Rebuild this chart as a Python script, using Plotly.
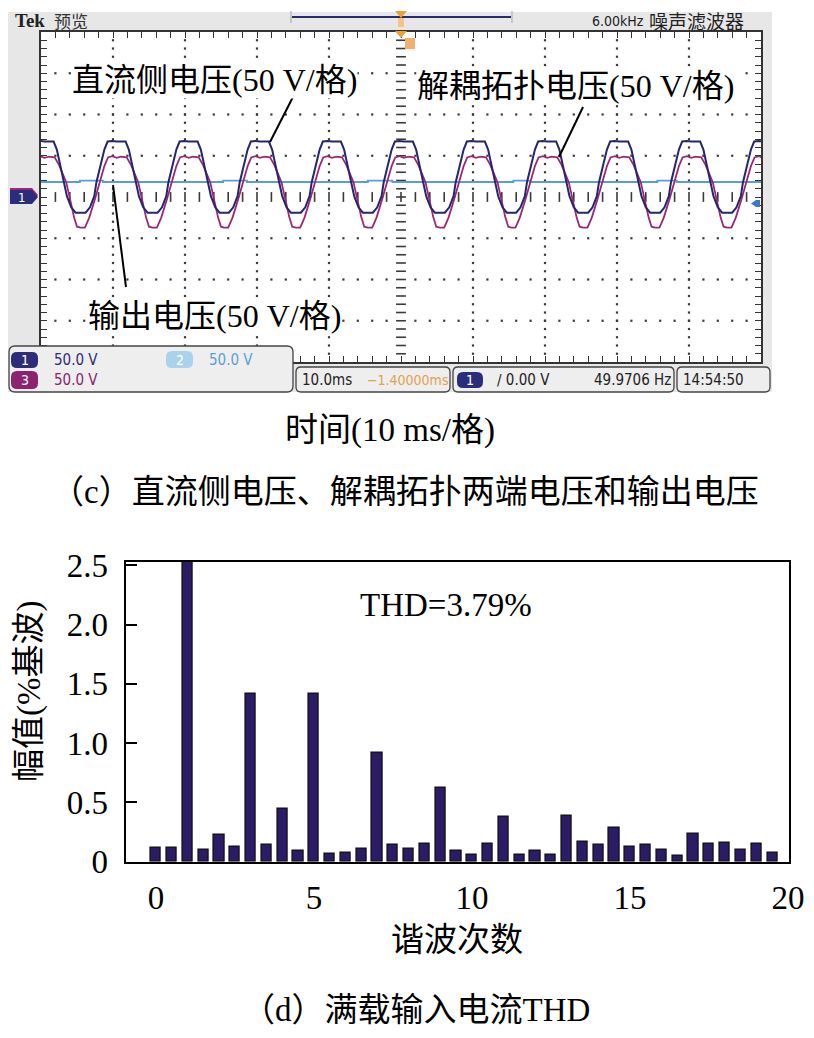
import numpy as np
import plotly.graph_objects as go

W, H = 814, 1038


def px(x):
    return x / W


def py(y):
    return 1 - y / H


# ---------------- data: (c) oscilloscope (values in divisions, 50 V/div; time in divisions, 10 ms/div)
ch1_tau = [-0.5, -0.43, -0.37, -0.31, -0.28, -0.22, -0.17, -0.125, -0.06, 0.0, 0.07, 0.125, 0.17, 0.22, 0.264, 0.31, 0.37, 0.43, 0.5]
ch1_val = [-0.38, -0.38, -0.25, 0.02, 0.36, 0.80, 1.15, 1.345, 1.36, 1.345, 1.35, 1.345, 1.15, 0.75, 0.36, 0.02, -0.25, -0.38, -0.38]
ch3_tau = [-0.5, -0.44, -0.38, -0.30, -0.23, -0.17, -0.12, -0.06, 0.0, 0.06, 0.14, 0.20, 0.30, 0.36, 0.41, 0.45, 0.5]
ch3_val = [-0.744, -0.744, -0.50, -0.05, 0.36, 0.75, 0.96, 0.99, 0.95, 0.98, 0.96, 0.78, 0.36, -0.10, -0.50, -0.72, -0.744]
# crest times of the successive cycles on screen (div)
crest_times = [0.05, 1.05, 2.05, 3.04, 4.04, 5.04, 6.04, 7.03, 8.03, 9.03, 10.03]
# output voltage (ch2): nearly flat line with small steps
ch2_t = [0, 0.54, 0.86, 2.53, 2.86, 4.54, 4.88, 6.56, 6.79, 8.56, 8.83, 10]
ch2_v = [0.364, 0.395, 0.364, 0.395, 0.364, 0.395, 0.364, 0.395, 0.364, 0.395, 0.364, 0.364]

# ---------------- data: (d) harmonic spectrum
harm_order = [0, 0.5, 1, 1.5, 2, 2.5, 3, 3.5, 4, 4.5, 5, 5.5, 6, 6.5, 7, 7.5, 8, 8.5, 9, 9.5,
              10, 10.5, 11, 11.5, 12, 12.5, 13, 13.5, 14, 14.5, 15, 15.5, 16, 16.5, 17, 17.5, 18, 18.5, 19, 19.5]
harm_amp = [0.12, 0.12, 100, 0.10, 0.23, 0.13, 1.42, 0.14, 0.45, 0.09, 1.42, 0.07, 0.08, 0.11, 0.92, 0.14, 0.11, 0.15, 0.62, 0.09,
            0.06, 0.15, 0.38, 0.06, 0.09, 0.06, 0.39, 0.17, 0.14, 0.29, 0.13, 0.14, 0.10, 0.05, 0.24, 0.15, 0.16, 0.10, 0.15, 0.08]
y_ticks = [0, 0.5, 1.0, 1.5, 2.0, 2.5]
y_ticktext = ["0", "0.5", "1.0", "1.5", "2.0", "2.5"]
x_ticks = [0, 5, 10, 15, 20]


def build(tau, val, crests):
    xs, ys = [], []
    for c in crests:
        for t, v in zip(tau[:-1], val[:-1]):
            xs.append(c + t)
            ys.append(v)
    return xs, ys


ch1_x, ch1_y = build(ch1_tau, ch1_val, crest_times)
ch3_x, ch3_y = build(ch3_tau, ch3_val, crest_times)

NAVY = "#26266f"
PURPLE = "#9a2878"
LBLUE = "#5b9bd8"
GRID = "#3a3a3a"
SERIF = "Liberation Serif, Times New Roman, Noto Sans CJK SC, serif"
NARROW = "Liberation Sans Narrow, DejaVu Sans Condensed, Arial Narrow, sans-serif"
CJK = "Noto Sans CJK SC, sans-serif"

fig = go.Figure()

# graticule dots (positions of the screen grid)
dx, dy = [], []
fine_x = np.round(np.arange(0.2, 10, 0.2), 2)
fine_y = np.round(np.arange(-3.8, 4, 0.2), 2)
for yy in [-3, -2, -1, 1, 2, 3]:
    for xx in fine_x:
        if abs(xx - 5) > 1e-6:
            dx.append(xx); dy.append(yy)
for xx in [1, 2, 3, 4, 6, 7, 8, 9]:
    for yy in fine_y:
        if abs(yy) > 1e-6:
            dx.append(xx); dy.append(yy)
fig.add_trace(go.Scatter(x=dx, y=dy, mode="markers", xaxis="x", yaxis="y",
                         marker=dict(symbol="square", size=2.2, color=GRID), hoverinfo="skip", showlegend=False))
fig.add_trace(go.Scatter(x=fine_x, y=[0] * len(fine_x), mode="markers", xaxis="x", yaxis="y",
                         marker=dict(symbol="line-ns", size=7, line=dict(width=1.6, color=GRID)),
                         hoverinfo="skip", showlegend=False))
fig.add_trace(go.Scatter(x=[5] * len(fine_y), y=fine_y, mode="markers", xaxis="x", yaxis="y",
                         marker=dict(symbol="line-ew", size=7, line=dict(width=1.6, color=GRID)),
                         hoverinfo="skip", showlegend=False))

# waveforms
fig.add_trace(go.Scatter(x=ch2_t, y=ch2_v, mode="lines", line=dict(color=LBLUE, width=1.8, shape="hv"),
                         xaxis="x", yaxis="y", showlegend=False, hoverinfo="skip"))
fig.add_trace(go.Scatter(x=ch3_x, y=ch3_y, mode="lines", line=dict(color=PURPLE, width=1.8),
                         xaxis="x", yaxis="y", showlegend=False, hoverinfo="skip"))
fig.add_trace(go.Scatter(x=ch1_x, y=ch1_y, mode="lines", line=dict(color=NAVY, width=2),
                         xaxis="x", yaxis="y", showlegend=False, hoverinfo="skip"))

# spectrum bars
fig.add_trace(go.Bar(x=harm_order, y=harm_amp, width=0.32, xaxis="x2", yaxis="y2",
                     marker=dict(color="#2c1c68", line=dict(color="#111", width=1.3)),
                     showlegend=False, hoverinfo="skip"))

# ---------------- shapes
shapes = []


def rect(x0, y0, x1, y1, fill, line=None, lw=0, layer="above"):
    shapes.append(dict(type="rect", xref="paper", yref="paper", x0=px(x0), x1=px(x1), y0=py(y1), y1=py(y0),
                       fillcolor=fill, line=dict(color=line or fill, width=lw), layer=layer))


def poly(points, fill, line=None, lw=0):
    d = "M " + " L ".join(f"{px(a):.5f},{py(b):.5f}" for a, b in points) + " Z"
    shapes.append(dict(type="path", xref="paper", yref="paper", path=d, fillcolor=fill,
                       line=dict(color=line or fill, width=lw), layer="above"))


def rrect(x0, y0, x1, y1, r, fill, line=None, lw=0):
    P = lambda a, b: f"{px(a):.5f},{py(b):.5f}"
    d = (f"M {P(x0 + r, y0)} L {P(x1 - r, y0)} Q {P(x1, y0)} {P(x1, y0 + r)} "
         f"L {P(x1, y1 - r)} Q {P(x1, y1)} {P(x1 - r, y1)} L {P(x0 + r, y1)} "
         f"Q {P(x0, y1)} {P(x0, y1 - r)} L {P(x0, y0 + r)} Q {P(x0, y0)} {P(x0 + r, y0)} Z")
    shapes.append(dict(type="path", xref="paper", yref="paper", path=d, fillcolor=fill,
                       line=dict(color=line or fill, width=lw), layer="above"))


def seg(x0, y0, x1, y1, color="black", w=2):
    shapes.append(dict(type="line", xref="paper", yref="paper", x0=px(x0), y0=py(y0), x1=px(x1), y1=py(y1),
                       line=dict(color=color, width=w), layer="above"))


# screen background
rect(8, 12, 772, 392, "#e7e7e7", layer="below")
rect(41, 32, 761, 362, "white", layer="below")

# top bar: record window and trigger markers
seg(291, 11, 291, 23, "#b0b0b0", 1.2)
seg(512, 11, 512, 23, "#b0b0b0", 1.2)
seg(292, 17, 511, 17, "#2a2a70", 2)
poly([(395, 11), (407, 11), (401, 18)], "#eea033")
rect(398, 18, 404, 27, "#f3c48a")
poly([(395, 31), (407, 31), (401, 38)], "#eea033")
rect(405, 38, 415, 49, "#f0b070")

# channel ground markers
poly([(10, 188), (32, 188), (38, 195), (32, 202), (10, 202)], PURPLE)
poly([(10, 190), (32, 190), (38, 197), (32, 204), (10, 204)], "#2b2d7a")
poly([(760, 200), (756, 200), (751, 203.5), (756, 207), (760, 207)], "#3f77c8")

# bottom information panels
PANEL = "#eeeeee"
rrect(9, 346, 293, 392, 6, PANEL, "#444", 1.3)
rrect(296, 367, 450, 392, 5, PANEL, "#444", 1.3)
rrect(453, 367, 674, 392, 5, PANEL, "#444", 1.3)
rrect(677, 367, 770, 392, 5, PANEL, "#444", 1.3)
rrect(11, 352, 38, 368, 6, "#2b2d7a")
rrect(166, 351, 193, 368, 6, "#a9d2ec")
rrect(11, 371, 38, 389, 6, "#8b236f")
rrect(457, 372, 483, 388, 6, "#2b2d7a")

# leader lines
seg(295, 93, 270, 142)
seg(583, 107, 559, 157)
seg(113, 185, 126, 287)

# ---------------- annotations
ann = []


def txt(x, y, s, size, color="black", family=SERIF, xanchor="center", bg=None):
    d = dict(x=px(x), y=py(y), xref="paper", yref="paper", text=s, showarrow=False,
             xanchor=xanchor, yanchor="middle", font=dict(size=size, color=color, family=family))
    if bg:
        d.update(bgcolor=bg, borderpad=0)
    ann.append(d)


txt(13, 21, "<b>Tek</b>", 19, "#222", SERIF, "left")
txt(52, 21, "预览", 17, "#333", CJK, "left")
txt(590, 21, "6.00kHz", 14, "#222", NARROW, "left")
txt(647, 21, "噪声滤波器", 19, "#222", CJK, "left")
txt(21, 197, "1", 13, "white", NARROW)
txt(24.5, 360, "1", 14, "white", NARROW)
txt(52, 360, "50.0 V", 15, "#2b2d7a", NARROW, "left")
txt(179.5, 360, "2", 14, "white", NARROW)
txt(207, 360, "50.0 V", 15, "#5a9fd8", NARROW, "left")
txt(24.5, 380, "3", 14, "white", NARROW)
txt(52, 380, "50.0 V", 15, "#8b236f", NARROW, "left")
txt(300, 380, "10.0ms", 15, "#222", NARROW, "left")
txt(365, 380, "\u22121.40000ms", 14, "#e0a24e", NARROW, "left")
txt(470, 380, "1", 14, "white", NARROW)
txt(495, 380, "\u2215 0.00 V", 15, "#222", NARROW, "left")
txt(673, 380, "49.9706 Hz", 15, "#222", NARROW, "right")
txt(681, 380, "14:54:50", 15, "#222", NARROW, "left")

txt(214, 80, "直流侧电压(50 V/格)", 32, "black", SERIF, bg="white")
txt(575, 86, "解耦拓扑电压(50 V/格)", 32, "black", SERIF, bg="white")
txt(214, 316, "输出电压(50 V/格)", 32, "black", SERIF, bg="white")

txt(390, 430, "时间(10 ms/格)", 33)
txt(405, 492, "（c）直流侧电压、解耦拓扑两端电压和输出电压", 33)

txt(446, 605, "THD=3.79%", 33)
txt(457, 940, "谐波次数", 33)
txt(416, 1010, "（d）满载输入电流THD", 33)
ann.append(dict(x=px(29), y=py(692), xref="paper", yref="paper", text="幅值(%基波)", showarrow=False,
                textangle=-90, xanchor="center", yanchor="middle", font=dict(size=33, color="black", family=SERIF)))

fig.update_layout(
    width=W, height=H, margin=dict(l=0, r=0, t=0, b=0, pad=0, autoexpand=False),
    paper_bgcolor="white", plot_bgcolor="rgba(0,0,0,0)", hovermode=False,
    shapes=shapes, annotations=ann, showlegend=False, bargap=0,
    xaxis=dict(domain=[px(41), px(761)], range=[0, 10], showgrid=False, zeroline=False, showline=True,
               linecolor="#333", linewidth=1.5, mirror="ticks", ticks="inside", ticklen=6, tickwidth=1,
               tickcolor="#333", dtick=0.2, tick0=0, showticklabels=False, fixedrange=True, automargin=False),
    yaxis=dict(domain=[py(362), py(32)], range=[-4, 4], showgrid=False, zeroline=False, showline=True,
               linecolor="#333", linewidth=1.5, mirror="ticks", ticks="inside", ticklen=6, tickwidth=1,
               tickcolor="#333", dtick=0.2, tick0=0, showticklabels=False, fixedrange=True, automargin=False),
    xaxis2=dict(domain=[px(125.7), px(789)], range=[-0.96, 20.03], anchor="y2", showgrid=False, zeroline=False,
                showline=True, linecolor="black", linewidth=2, mirror=True, ticks="",
                tickvals=x_ticks, ticktext=[str(v) for v in x_ticks], ticklabelstandoff=6, automargin=False,
                tickfont=dict(family=SERIF, size=33, color="black")),
    yaxis2=dict(domain=[py(861.7), py(561.7)], range=[0, 2.53], anchor="x2", showgrid=False, zeroline=False,
                showline=True, linecolor="black", linewidth=2, mirror=True, ticks="inside", ticklen=11,
                tickwidth=2, tickcolor="black", tickvals=y_ticks, ticktext=y_ticktext, ticklabelstandoff=9,
                automargin=False, tickfont=dict(family=SERIF, size=33, color="black")),
)

fig.write_html("out.html", config={"displayModeBar": False},
               post_script="document.body.style.margin='0px';")
